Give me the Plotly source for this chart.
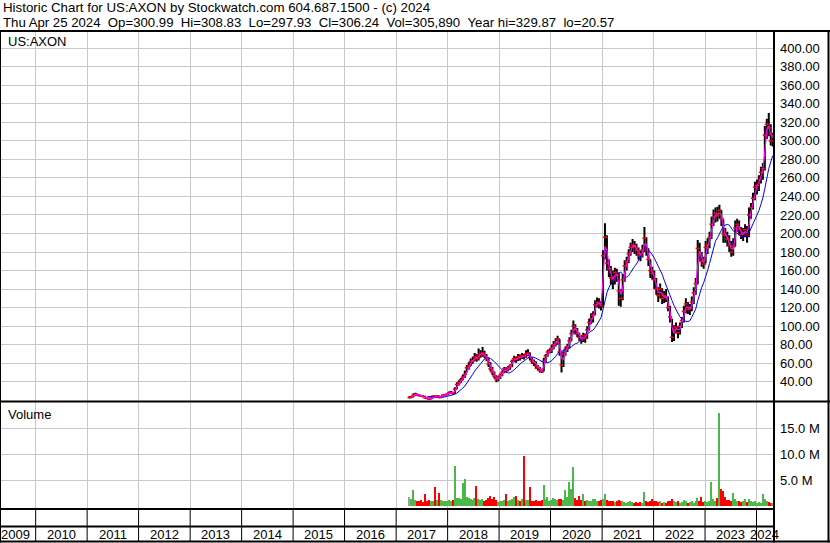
import plotly.graph_objects as go
import pandas as pd

# ---------------- data (bi-weekly bars) ----------------
dates = pd.date_range(end="2024-04-25", periods=185, freq="14D")

close = [
    23.0, 23.5, 25.5, 26.5, 25.5, 25.0, 24.5, 24.0, 22.5, 22.0, 21.5, 22.5, 24.5, 23.5, 24.5, 23.0, 24.0, 25.5, 26.0, 26.5,
    28.0, 28.5, 27.5, 32.0, 37.0, 39.0, 42.0, 45.0, 48.0, 55.0, 57.0, 62.0, 63.0, 67.0, 65.0, 69.0, 70.0, 71.0, 68.0, 65.0, 59.0, 54.0, 50.0, 46.0, 42.5, 44.0,
    47.0, 50.0, 54.0, 52.0, 55.0, 57.0, 62.0, 65.0, 64.0, 67.0, 66.0, 68.0, 67.0, 70.0, 71.0, 66.0, 62.0, 61.0, 57.0, 55.0, 52.0, 51.0, 62.0, 68.0, 72.0, 73.0,
    76.0, 80.0, 83.0, 86.0, 72.0, 58.0, 70.0, 75.0, 78.0, 84.0, 92.0, 100.0, 96.0, 92.0, 88.0, 85.0, 90.0, 87.0, 96.0, 104.0, 108.0, 112.0, 123.0, 126.0, 124.0, 122.0,
    176, 196, 168, 162, 152, 150, 158, 155, 138, 130, 150, 165, 170, 178, 185, 188, 186, 182, 178, 176, 182, 195, 182, 172, 160, 157,
    150, 140, 133, 140, 130, 133, 131, 120, 110, 88, 96, 99, 93, 100, 106, 116, 124, 118, 119, 126, 136, 146, 184, 178, 170, 167,
    185, 188, 196, 210, 218, 222, 219, 225, 216, 200, 198, 194, 188, 180, 186, 206, 210, 205, 199, 200, 204, 198, 220, 228, 238, 250,
    252, 258, 266, 270, 306, 318, 314, 300, 306.24,
]
high = [
    24.5, 24.8, 27.5, 28.2, 27.0, 26.2, 25.6, 25.0, 24.2, 23.0, 22.6, 23.2, 25.0, 24.8, 25.4, 24.8, 24.6, 26.0, 26.8, 27.2,
    29.5, 30.0, 29.0, 34.0, 39.5, 41.5, 44.0, 47.5, 52.0, 58.0, 61.0, 65.0, 67.0, 71.0, 70.0, 76.0, 74.0, 77.5, 73.5, 70.0, 66.0, 61.0, 56.0, 51.0, 47.0, 46.0,
    49.0, 52.0, 56.0, 55.5, 57.0, 59.0, 64.0, 68.0, 67.0, 70.0, 69.5, 71.0, 70.0, 74.0, 75.0, 71.5, 67.0, 64.0, 62.0, 58.0, 56.0, 54.0, 66.0, 70.0, 74.5, 76.0,
    80.0, 84.0, 87.0, 89.5, 86.0, 72.0, 73.0, 78.0, 81.0, 88.0, 96.0, 106.0, 102.0, 98.0, 93.0, 90.0, 93.0, 92.0, 100.0, 108.0, 114.0, 116.0, 128.0, 131.0, 130.0, 127.0,
    182, 211, 198, 172, 165, 160, 163, 162, 158, 140, 156, 171, 175, 183, 190, 194, 192, 189, 185, 182, 188, 207, 196, 184, 172, 164,
    160, 152, 142, 146, 141, 138, 140, 132, 122, 108, 101, 104, 100, 104, 110, 122, 130, 126, 124, 132, 142, 152, 193, 190, 180, 175,
    192, 195, 202, 218, 226, 228, 229, 231, 225, 215, 206, 202, 198, 192, 195, 214, 216, 214, 207, 206, 210, 208, 228, 233, 244, 256,
    258, 263, 272, 276, 316, 324, 330, 318, 308.83,
]
low = [
    22.0, 22.6, 23.4, 25.0, 24.8, 24.2, 23.8, 23.2, 21.8, 21.0, 20.6, 21.2, 22.4, 23.0, 23.4, 22.4, 22.8, 23.8, 25.0, 25.6,
    26.5, 27.4, 26.0, 27.0, 32.0, 36.0, 38.5, 41.5, 44.0, 50.0, 53.0, 57.0, 59.5, 62.0, 61.5, 63.0, 66.0, 67.0, 65.5, 62.0, 56.0, 51.0, 47.0, 43.5, 39.5, 40.5,
    43.0, 46.0, 49.5, 50.0, 51.5, 53.0, 55.5, 61.0, 60.5, 62.5, 63.0, 64.5, 64.0, 66.0, 67.5, 63.0, 59.5, 57.0, 54.0, 52.0, 50.0, 49.5, 51.0, 61.0, 67.0, 70.5,
    71.0, 75.0, 78.0, 80.0, 68.0, 50.0, 56.0, 68.0, 72.0, 76.0, 84.0, 92.0, 91.0, 88.0, 84.0, 81.0, 83.0, 82.0, 86.0, 95.0, 102.0, 104.0, 112.0, 120.0, 119.0, 117.0,
    120, 172, 160, 153, 145, 140, 145, 148, 122, 121, 128, 148, 160, 168, 176, 180, 178, 176, 172, 170, 174, 180, 176, 165, 152, 150,
    140, 134, 126, 130, 124, 125, 126, 116, 104, 83, 84, 92, 87, 91, 98, 104, 114, 113, 112, 116, 124, 134, 145, 170, 164, 162,
    168, 178, 184, 194, 208, 212, 213, 216, 208, 190, 190, 186, 180, 175, 176, 186, 202, 198, 194, 192, 196, 190, 196, 216, 226, 236,
    242, 246, 254, 258, 268, 302, 305, 295, 294,
]
volume_m = [
    1.85, 1.3, 3.1, 1.2, 1.0, 0.9, 1.1, 0.8, 2.4, 1.0, 1.2, 0.9, 1.0, 3.7, 1.1, 2.6, 1.2, 1.0, 0.9, 1.0,
    1.1, 0.9, 1.2, 7.75, 1.6, 1.5, 1.3, 4.4, 5.25, 1.8, 1.6, 1.4, 1.2, 1.5, 3.9, 1.4, 1.1, 1.3, 1.0, 1.2, 1.5, 2.0, 1.4, 1.7, 1.2, 0.8,
    1.0, 0.9, 1.1, 2.3, 1.0, 1.2, 1.3, 1.7, 2.0, 1.1, 0.9, 1.4, 9.7, 1.2, 1.1, 3.65, 1.0, 0.9, 1.2, 1.0, 0.9, 1.1, 4.1, 1.3, 1.8, 1.0,
    1.1, 1.6, 1.3, 1.2, 1.3, 1.4, 1.2, 3.1, 1.8, 4.6, 3.3, 7.5, 1.5, 1.2, 2.0, 1.1, 2.4, 1.0, 1.2, 0.9, 1.0, 1.3, 1.4, 1.0, 0.9, 1.1,
    1.3, 2.3, 1.2, 1.0, 0.9, 1.0, 0.8, 0.9, 1.1, 1.0, 0.9, 0.8, 0.7, 0.8, 0.9, 0.8, 0.7, 0.8, 0.7, 0.8, 0.7, 2.75, 1.0, 0.8, 0.9, 1.3,
    1.0, 0.9, 0.8, 0.9, 0.7, 0.8, 0.7, 0.9, 1.0, 1.4, 1.0, 0.8, 0.9, 0.7, 0.8, 1.1, 0.9, 0.7, 0.8, 0.9, 0.7, 1.0, 1.5, 0.9, 1.8, 0.8,
    0.9, 0.8, 1.0, 4.7, 1.3, 1.0, 1.6, 18.0, 3.3, 2.9, 1.8, 1.2, 1.1, 0.9, 2.6, 1.4, 1.0, 0.9, 0.8, 0.9, 1.4, 0.8, 1.3, 0.9, 0.8, 0.9,
    0.7, 0.8, 0.7, 2.4, 1.4, 0.9, 0.8, 0.7, 0.6,
]
price_ticks = [40, 60, 80, 100, 120, 140, 160, 180, 200, 220, 240, 260, 280, 300, 320, 340, 360, 380, 400]
volume_ticks = [5, 10, 15]
volume_tick_text = ["5.0 M", "10.0 M", "15.0 M"]
years = list(range(2009, 2025))

title_line1 = "Historic Chart for US:AXON by Stockwatch.com 604.687.1500 - (c) 2024"
title_fields = ["Thu Apr 25 2024", "Op=300.99", "Hi=308.83", "Lo=297.93", "Cl=306.24",
                "Vol=305,890", "Year hi=329.87", "lo=20.57"]

assert len(close) == len(high) == len(low) == len(volume_m) == len(dates)

# ---------------- derived ----------------
s_close = pd.Series(close)
opens = [close[0]] + close[:-1]
ma_fast = s_close.rolling(2).mean()
ma_slow = s_close.rolling(10).mean()
vol_colors = ["#a0a0a0"] + ["#4cb848" if close[i] >= close[i - 1] else "#ff0000" for i in range(1, len(close))]

# ---------------- geometry helpers (pixels -> paper) ----------------
W, H = 830, 543
ML, MR, MT, MB = 0, 57, 31, 34
PW = W - ML - MR
PH = H - MT - MB
def PX(x):
    return (x - ML) / PW
def PY(y):
    return (H - MB - y) / PH

FONT = "Arial, 'Liberation Sans', sans-serif"
GRID = "#c8c8c8"

fig = go.Figure()

fig.add_trace(go.Ohlc(
    x=dates, open=opens, high=high, low=low, close=close,
    increasing=dict(line=dict(color="#000000", width=2)),
    decreasing=dict(line=dict(color="#000000", width=2)),
    tickwidth=0.35,
    xaxis="x", yaxis="y", showlegend=False, hoverinfo="skip",
))
fig.add_trace(go.Scatter(x=dates, y=close, mode="markers",
                         marker=dict(symbol="line-ew", size=3, line=dict(color="#ff0000", width=1.5)),
                         xaxis="x", yaxis="y", showlegend=False, hoverinfo="skip"))
fig.add_trace(go.Scatter(x=dates, y=ma_slow, mode="lines",
                         line=dict(color="#0000ff", width=1), xaxis="x", yaxis="y",
                         showlegend=False, hoverinfo="skip"))
fig.add_trace(go.Scatter(x=dates, y=ma_fast, mode="lines",
                         line=dict(color="#ff00ff", width=1.2), xaxis="x", yaxis="y",
                         showlegend=False, hoverinfo="skip"))
fig.add_trace(go.Bar(x=dates, y=volume_m, marker=dict(color=vol_colors, line=dict(width=0)),
                     width=14 * 86400000 * 0.75, xaxis="x2", yaxis="y2",
                     showlegend=False, hoverinfo="skip"))

xrange = ["2009-04-23", "2024-04-27"]
common_x = dict(type="date", range=xrange, showticklabels=False, showgrid=True,
                gridcolor=GRID, gridwidth=1, tick0="2010-01-01", dtick="M12",
                ticks="", zeroline=False, showline=False, fixedrange=True,
                rangeslider=dict(visible=False))

price_bottom = PY(401)
vol_top = PY(402)

fig.update_layout(
    width=W, height=H,
    margin=dict(l=ML, r=MR, t=MT, b=MB, pad=0),
    paper_bgcolor="white", plot_bgcolor="white",
    font=dict(family=FONT, size=13, color="#000000"),
    xaxis=dict(common_x, domain=[0, 1], anchor="y"),
    xaxis2=dict(common_x, domain=[0, 1], anchor="y2", matches="x"),
    yaxis=dict(domain=[price_bottom, 1], range=[19.2, 418.6], side="right",
               tickvals=price_ticks, ticktext=[f"{v:.2f}" for v in price_ticks],
               showgrid=True, gridcolor=GRID, gridwidth=1, ticks="", zeroline=False,
               showline=False, ticklabelstandoff=6,
               tickfont=dict(family=FONT, size=13, color="#000000"), fixedrange=True),
    yaxis2=dict(domain=[0, vol_top], range=[-0.55, 20.03], side="right",
                tickvals=volume_ticks, ticktext=volume_tick_text,
                showgrid=True, gridcolor=GRID, gridwidth=1, ticks="", zeroline=False,
                showline=False, ticklabelstandoff=6,
                tickfont=dict(family=FONT, size=13, color="#000000"), fixedrange=True),
    bargap=0,
)

shapes = []
def hline(y, x0, x1, w=2):
    shapes.append(dict(type="line", xref="paper", yref="paper", x0=PX(x0), x1=PX(x1),
                       y0=PY(y), y1=PY(y), line=dict(color="black", width=w)))
def vline(x, y0, y1, w=2):
    shapes.append(dict(type="line", xref="paper", yref="paper", x0=PX(x), x1=PX(x),
                       y0=PY(y0), y1=PY(y1), line=dict(color="black", width=w)))

hline(31, 0, 830)
hline(401.5, 0, 830)
hline(509, 0, 774)
hline(526.5, 0, 774)
hline(541.5, 0, 830)
vline(774, 30, 542.5)
vline(828.5, 30, 542.5)
vline(0.5, 30, 542.5, 1)
for yr in years[1:]:
    shapes.append(dict(type="line", xref="x", yref="paper", x0=f"{yr}-01-01", x1=f"{yr}-01-01",
                       y0=PY(509), y1=PY(541), line=dict(color="black", width=1)))
fig.update_layout(shapes=shapes)

ann = []
def text(x, y, s, anchor="left", size=13):
    ann.append(dict(xref="paper", yref="paper", x=PX(x), y=PY(y), text=s, showarrow=False,
                    xanchor=anchor, yanchor="middle", borderpad=0,
                    font=dict(family=FONT, size=size, color="black")))

NB = "\u00a0\u00a0"
text(2, 7.3, title_line1, size=13.3)
text(2, 22.2, NB.join(title_fields), size=13.2)
text(7, 42, "US:AXON")
text(7, 414, "Volume")

# year labels centred in their visible cells
x0_px, x1_px = 0, 773
t0 = pd.Timestamp(xrange[0]); t1 = pd.Timestamp(xrange[1])
def date_to_px(t):
    return x0_px + (t - t0) / (t1 - t0) * (x1_px - x0_px)
for yr in years:
    a = max(pd.Timestamp(f"{yr}-01-01"), t0)
    b = min(pd.Timestamp(f"{yr + 1}-01-01"), t1)
    cx = (date_to_px(a) + date_to_px(b)) / 2
    if yr == years[0]:
        cx -= 2
    text(cx, 534, str(yr), anchor="center")
fig.update_layout(annotations=ann)

fig.write_html("out.html", config={"displayModeBar": False},
               post_script="document.body.style.margin='0px';document.body.style.overflow='hidden';")
